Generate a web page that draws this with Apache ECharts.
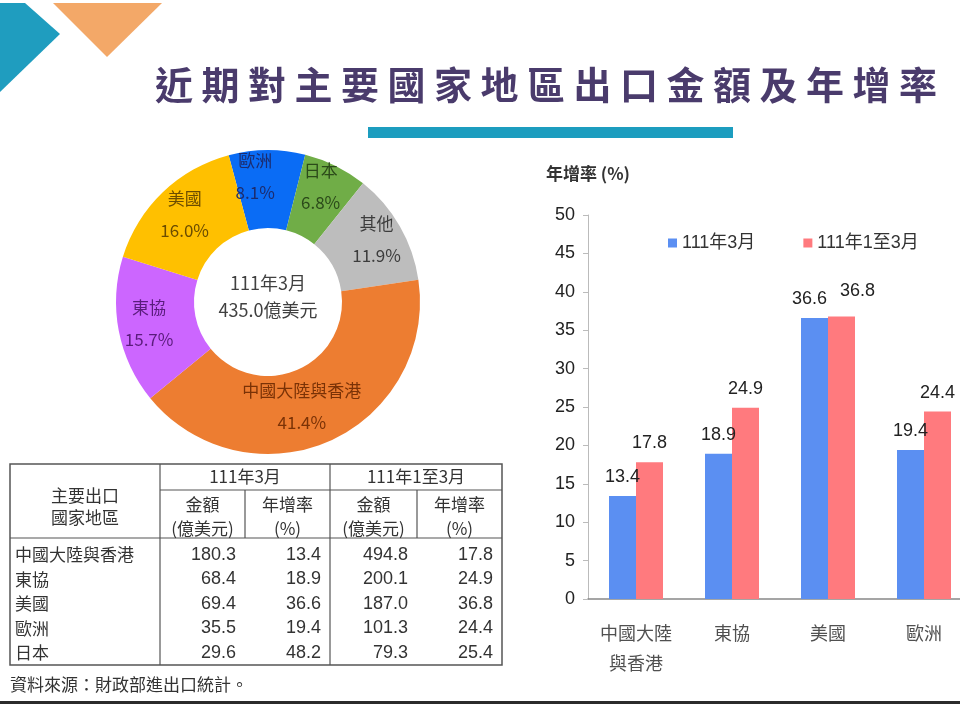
<!DOCTYPE html>
<html>
<head>
<meta charset="utf-8">
<script src="https://cdn.jsdelivr.net/npm/echarts@6/dist/echarts.min.js"></script>
<style>
html, body { margin: 0; padding: 0; background: #fff; overflow: hidden; }
#main { width: 1000px; height: 704px; }
</style>
</head>
<body>
<div id="main"></div>
<script>
// 資料
const titleText = '近期對主要國家地區出口金額及年增率'
const pieNames = ['歐洲', '日本', '其他', '中國大陸與香港', '東協', '美國']
const pieShares = [8.1, 6.8, 11.9, 41.4, 15.7, 16.0]
const pieColors = ['#0a6cf5', '#70ad47', '#bdbdbd', '#ed7d31', '#cc66ff', '#ffc000']
const pieLabelColors = ['#1c2c6e', '#2b4a1a', '#3c3c3c', '#7a3206', '#5a1c7c', '#6b4c00']
const pieCenterTitle = '111年3月'
const pieTotal = 435.0

const tableRows = ['中國大陸與香港', '東協', '美國', '歐洲', '日本']
const amtMar = [180.3, 68.4, 69.4, 35.5, 29.6]
const yoyMar = [13.4, 18.9, 36.6, 19.4, 48.2]
const amtQ1 = [494.8, 200.1, 187.0, 101.3, 79.3]
const yoyQ1 = [17.8, 24.9, 36.8, 24.4, 25.4]
const periodNames = ['111年3月', '111年1至3月']

const barCats = ['中國大陸\n與香港', '東協', '美國', '歐洲']
const barMar = yoyMar.slice(0, 4)
const barQ1 = yoyQ1.slice(0, 4)
const yTicks = { min: 0, max: 50, interval: 5 }

const CJK = '"Noto Sans CJK TC", sans-serif'
const NUM = '"Liberation Sans", "Noto Sans CJK TC", sans-serif'

const chart = echarts.init(document.getElementById('main'))

// 裝飾與標題
const graphic = [
  { type: 'rect', shape: { x: 0, y: 0, width: 1000, height: 704 }, style: { fill: '#fff' }, z: -10 },
  { type: 'polygon', shape: { points: [[0, 3], [25, 3], [60, 34], [0, 92]] }, style: { fill: '#1f9dbf' } },
  { type: 'polygon', shape: { points: [[53, 3], [162, 3], [107, 57]] }, style: { fill: '#f3a868' } },
  { type: 'rect', shape: { x: 368, y: 127, width: 365, height: 11 }, style: { fill: '#1c9dbf' } },
  { type: 'rect', shape: { x: 0, y: 701, width: 1000, height: 3 }, style: { fill: '#2b2b2b' } },
  {
    type: 'text', x: 268, y: 297,
    style: {
      text: pieCenterTitle + '\n' + pieTotal.toFixed(1) + '億美元',
      fontSize: 18, lineHeight: 27, fill: '#404040', fontFamily: CJK,
      align: 'center', verticalAlign: 'middle'
    }
  }
]
titleText.split('').forEach((ch, i) => {
  graphic.push({
    type: 'text', x: 155 + 19 + i * 46.5, y: 85,
    style: { text: ch, fontSize: 38, fontWeight: 'bold', fill: '#4a3b6c', fontFamily: CJK, align: 'center', verticalAlign: 'middle' }
  })
})

// 表格
const T = { l: 10, r: 502, t: 464, b: 665, h1: 490, h2: 538 }
const colX = [10, 160, 245, 330, 417, 502]
const line = (x1, y1, x2, y2) => ({
  type: 'line', shape: { x1, y1, x2, y2 }, style: { stroke: '#555', lineWidth: 1.2 }
})
const txt = (text, x, y, align, size, font) => ({
  type: 'text', x, y,
  style: { text, fontSize: size || 17, fill: '#333', fontFamily: font || CJK, align: align || 'center', verticalAlign: 'middle' }
})
graphic.push({
  type: 'rect', shape: { x: T.l, y: T.t, width: T.r - T.l, height: T.b - T.t },
  style: { fill: 'none', stroke: '#555', lineWidth: 1.5 }
})
graphic.push(line(colX[1], T.t, colX[1], T.b))
graphic.push(line(colX[3], T.t, colX[3], T.b))
graphic.push(line(colX[2], T.h1, colX[2], T.h2))
graphic.push(line(colX[4], T.h1, colX[4], T.h2))
graphic.push(line(colX[1], T.h1, T.r, T.h1))
graphic.push(line(T.l, T.h2, T.r, T.h2))
graphic.push(txt('主要出口', 85, 496))
graphic.push(txt('國家地區', 85, 518))
graphic.push(txt(periodNames[0], (colX[1] + colX[3]) / 2, 477))
graphic.push(txt(periodNames[1], (colX[3] + colX[5]) / 2, 477))
for (let k = 0; k < 2; k++) {
  const a = (colX[1 + 2 * k] + colX[2 + 2 * k]) / 2
  const b = (colX[2 + 2 * k] + colX[3 + 2 * k]) / 2
  graphic.push(txt('金額', a, 505))
  graphic.push(txt('(億美元)', a, 529))
  graphic.push(txt('年增率', b, 505))
  graphic.push(txt('(%)', b, 529))
}
tableRows.forEach((name, i) => {
  const y = 555 + i * 24.5
  graphic.push(txt(name, 15, y, 'left'))
  ;[amtMar, yoyMar, amtQ1, yoyQ1].forEach((arr, j) => {
    graphic.push(txt(arr[i].toFixed(1), colX[j + 2] - 9, y, 'right', 18, NUM))
  })
})
graphic.push(txt('資料來源：財政部進出口統計。', 10, 685, 'left'))

// 原圖標籤位置有手動微調
const pieLabelOffset = [[-12, -9], [1, -12], [8, -5], [-13, -2], [-5, 0], [-3, -4]]
const barLabelOffset = [[[0, 0], [0, 0], [-5, 0], [0, 0]], [[0, 0], [0, 0], [16, -6], [0, 0]]]
const barData = (arr, s) => arr.map((v, i) => ({ value: v, label: { offset: barLabelOffset[s][i] } }))
const barLabel = { show: true, position: 'top', distance: 10, fontSize: 18, color: '#222', fontFamily: NUM, formatter: p => p.value.toFixed(1) }

chart.setOption({
  backgroundColor: '#fff',
  animation: false,
  graphic: graphic,
  legend: {
    left: 663, top: 229,
    itemWidth: 9, itemHeight: 9, itemGap: 48, icon: 'rect',
    textStyle: { fontSize: 18, color: '#333', fontFamily: NUM },
    data: periodNames
  },
  grid: { left: 588, top: 215, width: 384, height: 384 },
  xAxis: {
    type: 'category',
    data: barCats,
    axisLine: { lineStyle: { color: '#888', width: 1.5 } },
    axisTick: { show: false },
    axisLabel: { interval: 0, fontSize: 18, lineHeight: 30, color: '#505050', fontFamily: CJK, margin: 19 }
  },
  yAxis: {
    type: 'value',
    min: yTicks.min, max: yTicks.max, interval: yTicks.interval,
    name: '年增率 (%)',
    nameLocation: 'end', nameGap: 33,
    nameTextStyle: { fontSize: 17, fontWeight: 'bold', color: '#333', fontFamily: CJK },
    axisLine: { show: true, lineStyle: { color: '#bbb' } },
    axisTick: { show: true, length: 5, lineStyle: { color: '#bbb' } },
    axisLabel: { fontSize: 18, color: '#222', fontFamily: NUM, margin: 13 },
    splitLine: { show: false }
  },
  series: [
    {
      type: 'pie',
      center: [268, 302],
      radius: [74, 152],
      startAngle: 105,
      clockwise: true,
      data: pieNames.map((n, i) => ({
        name: n, value: pieShares[i],
        itemStyle: { color: pieColors[i] },
        label: { color: pieLabelColors[i], offset: pieLabelOffset[i] }
      })),
      label: {
        show: true, position: 'inside',
        formatter: p => p.name + '\n' + p.value.toFixed(1) + '%',
        fontSize: 17, lineHeight: 32, fontFamily: CJK
      },
      labelLine: { show: false },
      emphasis: { disabled: true }
    },
    {
      name: periodNames[0], type: 'bar', data: barData(barMar, 0),
      barWidth: 27, barGap: '0%',
      itemStyle: { color: '#5b8ff2' },
      label: barLabel
    },
    {
      name: periodNames[1], type: 'bar', data: barData(barQ1, 1),
      barWidth: 27, barGap: '0%',
      itemStyle: { color: '#ff7a7e' },
      label: barLabel
    }
  ]
})
</script>
</body>
</html>
